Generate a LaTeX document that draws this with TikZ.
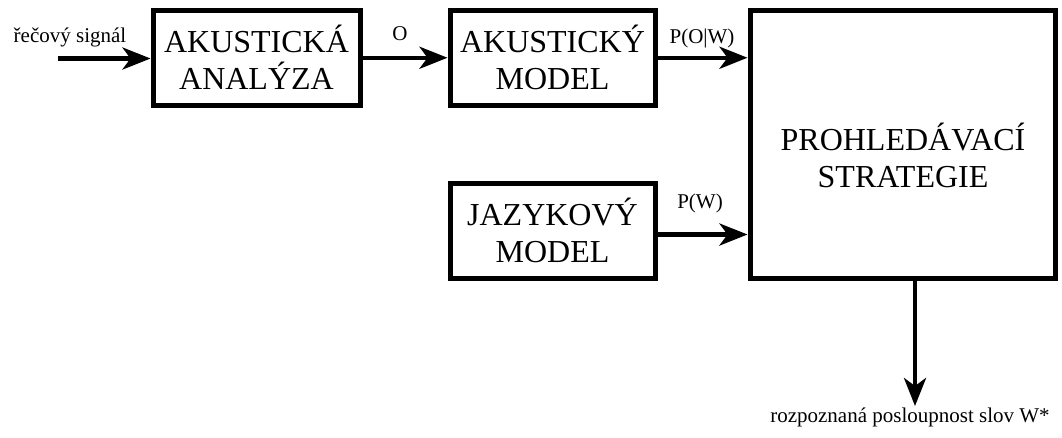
\documentclass[tikz,border=0pt]{standalone}
\usepackage{fontspec}
\setmainfont{Liberation Serif}
\usetikzlibrary{arrows.meta}
\begin{document}
\begin{tikzpicture}[x=1pt,y=-1pt,
  block/.style={draw=black, line width=5pt, fill=white, inner sep=0pt,
    align=center, font=\fontsize{32}{37}\selectfont},
  flow/.style={line width=4.5pt, -{Stealth[length=28pt,width=22pt,inset=8pt]}},
  tag/.style={anchor=base, inner sep=0pt, font=\fontsize{21}{24}\selectfont}]
  \useasboundingbox (0,0) rectangle (1062,437);

  % processing blocks
  \node[block, minimum width=207pt, minimum height=94.5pt] (ana) at (256.5,57.75)
    {AKUSTICKÁ\\ANALÝZA};
  \node[block, minimum width=205pt, minimum height=94.5pt] (am) at (552.5,57.75)
    {AKUSTICKÝ\\MODEL};
  \node[block, minimum width=205pt, minimum height=95pt] (lm) at (552.5,230.5)
    {JAZYKOVÝ\\MODEL};
  \node[block, minimum width=305pt, minimum height=267.5pt] (search) at (902.5,144.25) {};
  \node[align=center, inner sep=0pt, font=\fontsize{32}{37}\selectfont] (searchtxt)
    at (903,155) {PROHLEDÁVACÍ\\STRATEGIE};

  % free ends
  \coordinate (in) at (58,58.5);
  \coordinate (out) at (915,406);

  % connectors
  \draw[flow] (in) -- (in -| ana.west);
  \draw[flow] (ana.east) -- (am.west);
  \draw[flow] (am.east) -- (am.east -| search.west);
  \draw[flow] ([yshift=-4pt]lm.east) -- ([yshift=-4pt]lm.east -| search.west);
  \draw[flow] (search.south -| out) -- (out);

  % labels
  \node[tag] (lblin) at (70,42) {řečový signál};
  \node[tag] (lblo) at (400,40) {O};
  \node[tag] (lblpow) at (702,43) {P(O|W)};
  \node[tag] (lblpw) at (700,208) {P(W)};
  \node[tag] (lblout) at (910,422) {rozpoznaná posloupnost slov W*};
\end{tikzpicture}
\end{document}
